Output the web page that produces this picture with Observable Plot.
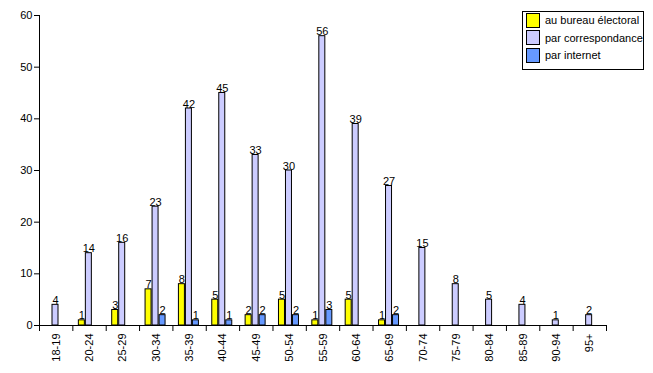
<!DOCTYPE html>
<html>
<head>
<meta charset="utf-8">
<script src="https://cdn.jsdelivr.net/npm/d3@7"></script>
<script src="https://cdn.jsdelivr.net/npm/@observablehq/plot@0.6"></script>
<style>
  html, body { margin: 0; padding: 0; background: #fff; }
  #wrap { position: relative; width: 653px; height: 373px; font-family: "Liberation Sans", Arial, sans-serif; }
  #legend { position: absolute; left: 522px; top: 11px; width: 120px; height: 57px; border: 1px solid #000; background: #fff; font-size: 11px; }
  .row { position: absolute; left: 3px; height: 14px; display: flex; align-items: center; }
  .sw { width: 12px; height: 13px; border: 1px solid #000; margin-right: 5px; box-sizing: content-box; }
</style>
</head>
<body>
<div id="wrap"><div id="legend"></div></div>
<script>
const categories = ["18-19","20-24","25-29","30-34","35-39","40-44","45-49","50-54","55-59","60-64","65-69","70-74","75-79","80-84","85-89","90-94","95+"];
const bureau         = [0, 1, 3, 7, 8, 5, 2, 5, 1, 5, 1, 0, 0, 0, 0, 0, 0];
const correspondance = [4,14,16,23,42,45,33,30,56,39,27,15, 8, 5, 4, 1, 2];
const internet       = [0, 0, 0, 2, 1, 1, 2, 2, 3, 0, 2, 0, 0, 0, 0, 0, 0];
const seriesNames = ["au bureau électoral", "par correspondance", "par internet"];
const seriesColors = ["#ffff00", "#ccccff", "#6699ff"];
const yTicks = [0, 10, 20, 30, 40, 50, 60];

const W = 653, H = 373, mL = 39, mR = 47, mT = 15, mB = 48;
const bw = (W - mL - mR) / categories.length;
const barW = 6;
const insets = [6, 13, 20];

const seriesValues = [bureau, correspondance, internet];
const rows = seriesValues.map((vals, s) =>
  categories.map((c, i) => ({cat: c, value: vals[i], series: seriesNames[s]})).filter(d => d.value > 0)
);

const marks = [];
rows.forEach((data, s) => {
  marks.push(Plot.barY(data, {
    x: "cat", y: "value", fill: seriesColors[s], stroke: "black", strokeWidth: 1,
    insetLeft: insets[s], insetRight: bw - insets[s] - barW
  }));
  marks.push(Plot.text(data, {
    x: "cat", y: "value", text: d => String(d.value),
    dx: insets[s] + barW / 2 - bw / 2, dy: -1, lineAnchor: "bottom", fontSize: 11, fill: "black"
  }));
});

const chart = Plot.plot({
  width: W, height: H, marginLeft: mL, marginRight: mR, marginTop: mT, marginBottom: mB,
  style: {fontFamily: "'Liberation Sans', Arial, sans-serif", fontSize: "11px", background: "white", color: "black"},
  x: {domain: categories, padding: 0, round: false, axis: null},
  y: {domain: [0, 60], axis: null},
  marks: [
    ...marks,
    Plot.ruleY([0], {stroke: "black"}),
    Plot.ruleX([categories[0]], {x: d => d, y1: 0, y2: 60, dx: -bw / 2, stroke: "black"}),
    Plot.axisY({ticks: yTicks, tickSize: 5, tickPadding: 2, fontSize: 11, label: null}),
    Plot.axisX({tickSize: 6, tickFormat: () => "", dx: -bw / 2, label: null}),
    Plot.axisX([categories[categories.length - 1]], {tickSize: 6, tickFormat: () => "", dx: bw / 2, label: null}),
    Plot.axisX({tickSize: 0, tickRotate: -90, tickPadding: 8, fontSize: 11, label: null})
  ]
});
document.getElementById("wrap").prepend(chart);

const legend = document.getElementById("legend");
seriesNames.forEach((name, i) => {
  const row = document.createElement("div");
  row.className = "row";
  row.style.top = (1 + i * 17.7) + "px";
  const sw = document.createElement("div");
  sw.className = "sw";
  sw.style.background = seriesColors[i];
  const t = document.createElement("span");
  t.textContent = name;
  row.appendChild(sw);
  row.appendChild(t);
  legend.appendChild(row);
});
</script>
</body>
</html>
